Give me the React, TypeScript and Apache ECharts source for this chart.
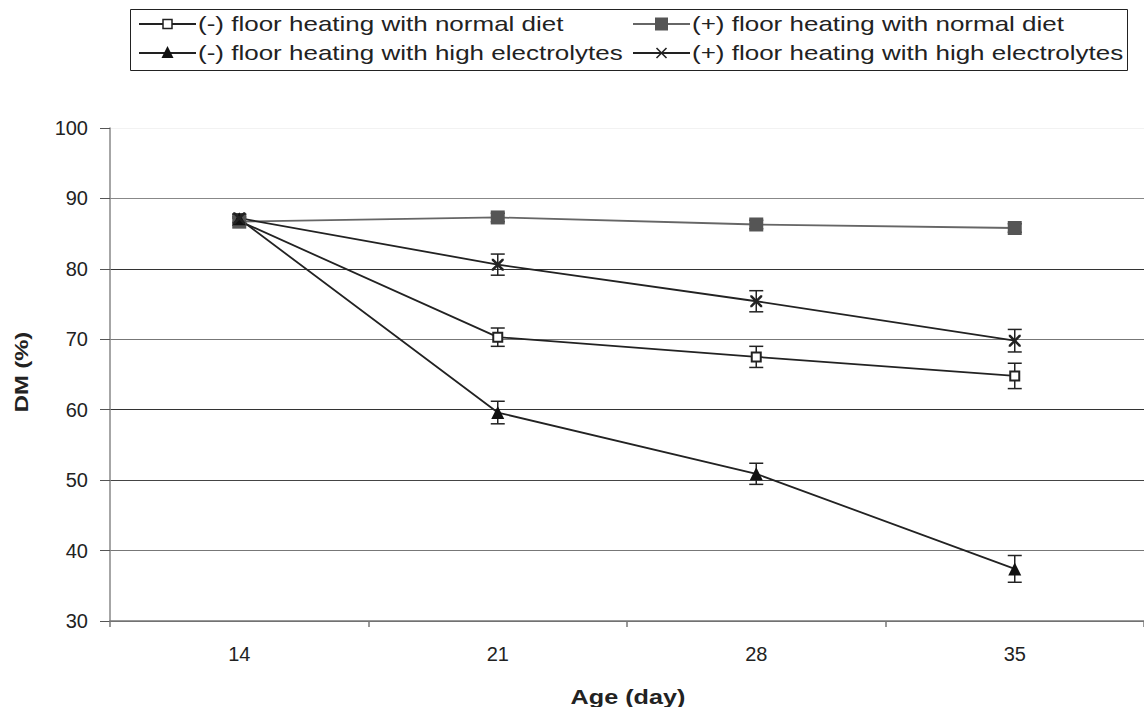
import React, { useEffect, useRef } from "react";
import * as echarts from "echarts";

const categories = ["14", "21", "28", "35"];
const seriesNames = [
  "(-) floor heating with normal diet",
  "(+) floor heating with normal diet",
  "(-) floor heating with high electrolytes",
  "(+) floor heating with high electrolytes",
];
const minusNormal = [86.8, 70.3, 67.5, 64.8];
const minusNormalErr = [0.6, 1.3, 1.5, 1.8];
const plusNormal = [86.7, 87.3, 86.3, 85.8];
const plusNormalErr = [0.5, 0.6, 0.6, 0.6];
const minusHigh = [87.1, 59.6, 50.9, 37.4];
const minusHighErr = [0.6, 1.6, 1.5, 1.9];
const plusHigh = [87.2, 80.6, 75.4, 69.8];
const plusHighErr = [0.6, 1.5, 1.5, 1.6];

const xPath =
  "path://M0,0L1.5,0L5,3.5L8.5,0L10,0L10,1.5L6.5,5L10,8.5L10,10L8.5,10L5,6.5L1.5,10L0,10L0,8.5L3.5,5L0,1.5Z";

function errData(vals: number[], errs: number[]) {
  return vals.map((v, i) => [i, v - errs[i], v + errs[i]]);
}

function errorSeries(vals: number[], errs: number[], color: string) {
  return {
    type: "custom",
    silent: true,
    z: 1,
    data: errData(vals, errs),
    encode: { x: 0, y: [1, 2] },
    renderItem: (params: any, api: any) => {
      const idx = api.value(0);
      const lo = api.coord([idx, api.value(1)]);
      const hi = api.coord([idx, api.value(2)]);
      const hw = 7;
      const style = { stroke: color, lineWidth: 1.5 };
      return {
        type: "group",
        children: [
          { type: "line", shape: { x1: lo[0], y1: lo[1], x2: hi[0], y2: hi[1] }, style },
          { type: "line", shape: { x1: lo[0] - hw, y1: lo[1], x2: lo[0] + hw, y2: lo[1] }, style },
          { type: "line", shape: { x1: hi[0] - hw, y1: hi[1], x2: hi[0] + hw, y2: hi[1] }, style },
        ],
      };
    },
  };
}

function legendItem(i: number, font: string) {
  const col = i % 2;
  const row = Math.floor(i / 2);
  const x0 = col === 0 ? 139 : 633;
  const yc = row === 0 ? 24 : 53;
  const lineColor = i === 1 ? "#666" : "#222";
  const cx = x0 + 28.5;
  let sym: any;
  if (i === 0) {
    sym = {
      type: "rect",
      shape: { x: cx - 4.5, y: yc - 4.5, width: 9, height: 9 },
      style: { fill: "#fff", stroke: "#222", lineWidth: 1.5 },
    };
  } else if (i === 1) {
    sym = {
      type: "rect",
      shape: { x: cx - 6.5, y: yc - 6.5, width: 13, height: 13 },
      style: { fill: "#555" },
    };
  } else if (i === 2) {
    sym = {
      type: "polygon",
      shape: { points: [[cx, yc - 7], [cx + 6, yc + 5], [cx - 6, yc + 5]] },
      style: { fill: "#111" },
    };
  } else {
    sym = {
      type: "group",
      children: [
        { type: "line", shape: { x1: cx - 5, y1: yc - 5, x2: cx + 5, y2: yc + 5 }, style: { stroke: "#222", lineWidth: 1.6 } },
        { type: "line", shape: { x1: cx - 5, y1: yc + 5, x2: cx + 5, y2: yc - 5 }, style: { stroke: "#222", lineWidth: 1.6 } },
      ],
    };
  }
  return [
    {
      type: "line",
      shape: { x1: x0, y1: yc, x2: x0 + 57, y2: yc },
      style: { stroke: lineColor, lineWidth: 1.8 },
    },
    sym,
    {
      type: "text",
      x: x0 + 59,
      y: yc,
      scaleX: 1.3,
      style: {
        text: seriesNames[i],
        font: `20px ${font}`,
        fill: "#222",
        align: "left",
        verticalAlign: "middle",
      },
    },
  ];
}

export default function App() {
  const ref = useRef<HTMLDivElement>(null);
  useEffect(() => {
    if (!ref.current) return;
    const chart = echarts.init(ref.current, null, { renderer: "svg" });
    const font = "Liberation Sans, Arial, sans-serif";
    const legendGraphics: any[] = [];
    for (let i = 0; i < seriesNames.length; i++) legendGraphics.push(...legendItem(i, font));
    const option: any = {
      animation: false,
      backgroundColor: "#fff",
      textStyle: { fontFamily: font },
      grid: { left: 110, top: 128, width: 1040, height: 493, containLabel: false },
      graphic: [
        {
          type: "rect",
          shape: { x: 130.5, y: 9.5, width: 997, height: 61 },
          style: { fill: "none", stroke: "#222", lineWidth: 1 },
        },
        ...legendGraphics,
        {
          type: "text",
          x: 628,
          y: 697,
          scaleX: 1.26,
          style: {
            text: "Age (day)",
            font: `bold 20px ${font}`,
            fill: "#222",
            align: "center",
            verticalAlign: "middle",
          },
        },
        {
          type: "text",
          x: 22,
          y: 372,
          rotation: Math.PI / 2,
          scaleX: 1.25,
          style: {
            text: "DM (%)",
            font: `bold 19px ${font}`,
            fill: "#222",
            align: "center",
            verticalAlign: "middle",
          },
        },
      ],
      xAxis: {
        type: "category",
        data: categories,
        boundaryGap: true,
        axisLine: { lineStyle: { color: "#777", width: 1.5 } },
        axisTick: { show: true, length: 6, lineStyle: { color: "#777", width: 1.5 } },
        axisLabel: { margin: 23, fontSize: 20, color: "#222", fontFamily: font },
        splitLine: { show: false },
      },
      yAxis: {
        type: "value",
        min: 30,
        max: 100,
        interval: 10,
        axisLine: { show: true, lineStyle: { color: "#888", width: 1.5 } },
        axisTick: { show: true, length: 10, lineStyle: { color: "#555", width: 1 } },
        axisLabel: { margin: 22, fontSize: 20, color: "#222", fontFamily: font },
        splitLine: {
          show: true,
          lineStyle: {
            color: ["#666", "#777", "#444", "#333", "#777", "#333", "#888", "#f2f2f2"],
            width: 1.2,
          },
        },
      },
      series: [
        {
          name: seriesNames[0],
          type: "line",
          data: minusNormal,
          symbol: "emptyRect",
          symbolSize: 9,
          z: 3,
          color: "#222",
          lineStyle: { color: "#222", width: 1.8 },
          itemStyle: { color: "#222", borderColor: "#222", borderWidth: 1.5 },
        },
        {
          name: seriesNames[1],
          type: "line",
          data: plusNormal,
          symbol: "rect",
          symbolSize: 14,
          z: 3,
          color: "#555",
          lineStyle: { color: "#666", width: 1.8 },
          itemStyle: { color: "#555" },
        },
        {
          name: seriesNames[2],
          type: "line",
          data: minusHigh,
          symbol: "triangle",
          symbolSize: 13,
          z: 3,
          color: "#111",
          lineStyle: { color: "#222", width: 1.8 },
          itemStyle: { color: "#111" },
        },
        {
          name: seriesNames[3],
          type: "line",
          data: plusHigh,
          symbol: xPath,
          symbolSize: 12,
          z: 3,
          color: "#222",
          lineStyle: { color: "#222", width: 1.8 },
          itemStyle: { color: "#222" },
        },
        errorSeries(minusNormal, minusNormalErr, "#222"),
        errorSeries(plusNormal, plusNormalErr, "#222"),
        errorSeries(minusHigh, minusHighErr, "#222"),
        errorSeries(plusHigh, plusHighErr, "#222"),
      ],
    };
    chart.setOption(option);
    return () => chart.dispose();
  }, []);
  return (
    <div
      ref={ref}
      style={{ position: "fixed", left: 0, top: 0, width: 1144, height: 707, background: "#fff" }}
    />
  );
}
